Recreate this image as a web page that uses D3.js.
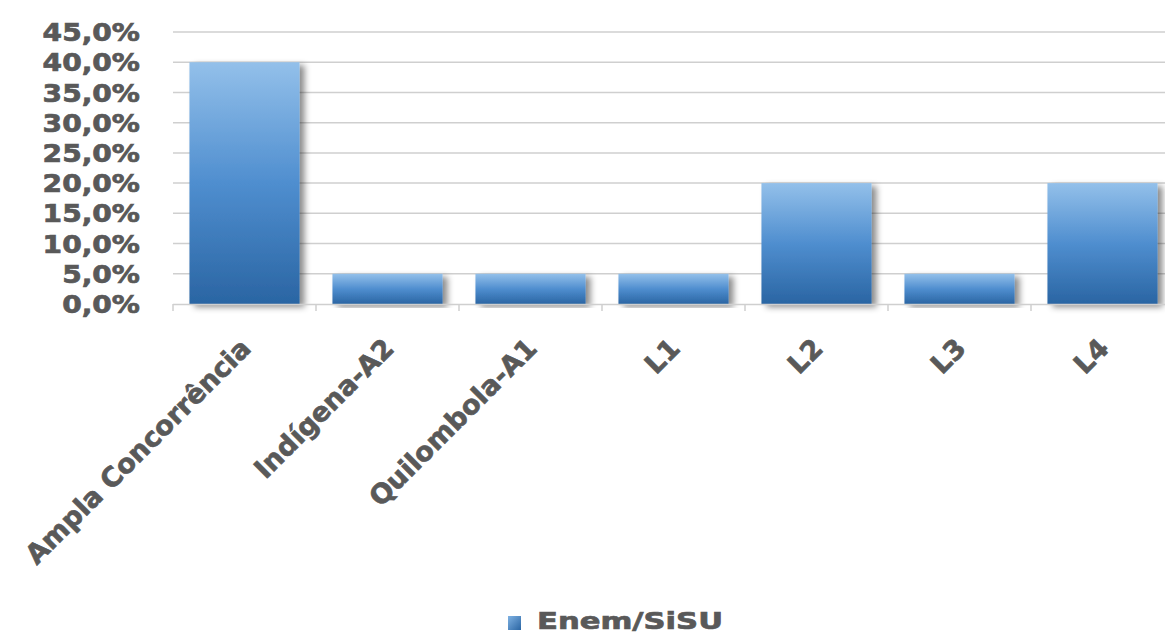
<!DOCTYPE html>
<html>
<head>
<meta charset="utf-8">
<script src="https://cdn.jsdelivr.net/npm/d3@7"></script>
<style>
  html, body { margin: 0; padding: 0; background: #ffffff; }
  svg { display: block; }
  text { font-family: "DejaVu Sans", Verdana, sans-serif; font-weight: bold; fill: #595959; stroke: #595959; stroke-width: 0.7px; }
</style>
</head>
<body>
<svg id="chart" width="1165" height="635"></svg>
<script>
const categories = ["Ampla Concorrência", "Indígena-A2", "Quilombola-A1", "L1", "L2", "L3", "L4"];
const values = [0.40, 0.05, 0.05, 0.05, 0.20, 0.05, 0.20];
const yTicks = [0, 0.05, 0.10, 0.15, 0.20, 0.25, 0.30, 0.35, 0.40, 0.45];
const seriesName = "Enem/SiSU";

const svg = d3.select("#chart");
const W = 1165, H = 635;
const plotLeft = 173, plotRight = 1174, plotTop = 32, plotBottom = 304;

const x = d3.scaleBand().domain(categories).range([plotLeft, plotRight])
  .paddingInner(0.23).paddingOuter(0.115);
const y = d3.scaleLinear().domain([0, 0.45]).range([plotBottom, plotTop]);

const defs = svg.append("defs");
const grad = defs.append("linearGradient").attr("id", "barGrad")
  .attr("x1", 0).attr("y1", 0).attr("x2", 0).attr("y2", 1);
grad.append("stop").attr("offset", "0%").attr("stop-color", "#93c0ea");
grad.append("stop").attr("offset", "50%").attr("stop-color", "#4f8ecf");
grad.append("stop").attr("offset", "100%").attr("stop-color", "#2a65a3");

const legGrad = defs.append("linearGradient").attr("id", "legGrad")
  .attr("x1", 0).attr("y1", 0).attr("x2", 1).attr("y2", 1);
legGrad.append("stop").attr("offset", "0%").attr("stop-color", "#7fb2e3");
legGrad.append("stop").attr("offset", "100%").attr("stop-color", "#2a65a3");

const shadow = defs.append("filter").attr("id", "shadow")
  .attr("x", "-10%").attr("y", "-10%").attr("width", "130%").attr("height", "120%");
shadow.append("feDropShadow").attr("dx", 5).attr("dy", 3).attr("stdDeviation", 3)
  .attr("flood-color", "#000").attr("flood-opacity", 0.45);

// gridlines
svg.append("g")
  .selectAll("line").data(yTicks.filter(d => d > 0)).join("line")
  .attr("x1", plotLeft).attr("x2", W)
  .attr("y1", d => y(d)).attr("y2", d => y(d))
  .attr("stroke", "#cfcfcf").attr("stroke-width", 1.5);

// y axis labels
const yAxis = d3.axisLeft(y).tickValues(yTicks)
  .tickFormat(d => (d * 100).toFixed(1).replace(".", ",") + "%")
  .tickSize(0).tickPadding(0);
const yg = svg.append("g").attr("transform", "translate(140,0) scale(1.17,1)").call(yAxis);
yg.select(".domain").remove();
yg.selectAll("text").style("font-size", "24px").attr("fill", "#595959").attr("dy", "0.36em");

// bars
svg.append("g").selectAll("rect").data(values).join("rect")
  .attr("x", (d, i) => x(categories[i]))
  .attr("y", d => y(d))
  .attr("width", x.bandwidth())
  .attr("height", d => plotBottom - y(d))
  .attr("fill", "url(#barGrad)")
  .attr("filter", "url(#shadow)");

// x axis line and ticks
const step = x.step();
const bounds = d3.range(categories.length + 1).map(i => plotLeft + i * step);
svg.append("line").attr("x1", plotLeft).attr("x2", W)
  .attr("y1", plotBottom + 0.5).attr("y2", plotBottom + 0.5)
  .attr("stroke", "#cfcfcf").attr("stroke-width", 1.5);
svg.append("g").selectAll("line").data(bounds).join("line")
  .attr("x1", d => d).attr("x2", d => d)
  .attr("y1", plotBottom).attr("y2", plotBottom + 7)
  .attr("stroke", "#cfcfcf").attr("stroke-width", 1.5);

// x labels
svg.append("g").selectAll("text").data(categories).join("text")
  .attr("transform", d => `translate(${x(d) + x.bandwidth() / 2 + 8},350) rotate(-45)`)
  .attr("text-anchor", "end")
  .style("font-size", "27px")
  .text(d => d);

// legend
svg.append("rect").attr("x", 508).attr("y", 616).attr("width", 13).attr("height", 14)
  .attr("fill", "url(#legGrad)");
svg.append("text").attr("x", 537).attr("y", 629)
  .style("font-size", "23px")
  .attr("textLength", 186).attr("lengthAdjust", "spacingAndGlyphs")
  .text(seriesName);
</script>
</body>
</html>
